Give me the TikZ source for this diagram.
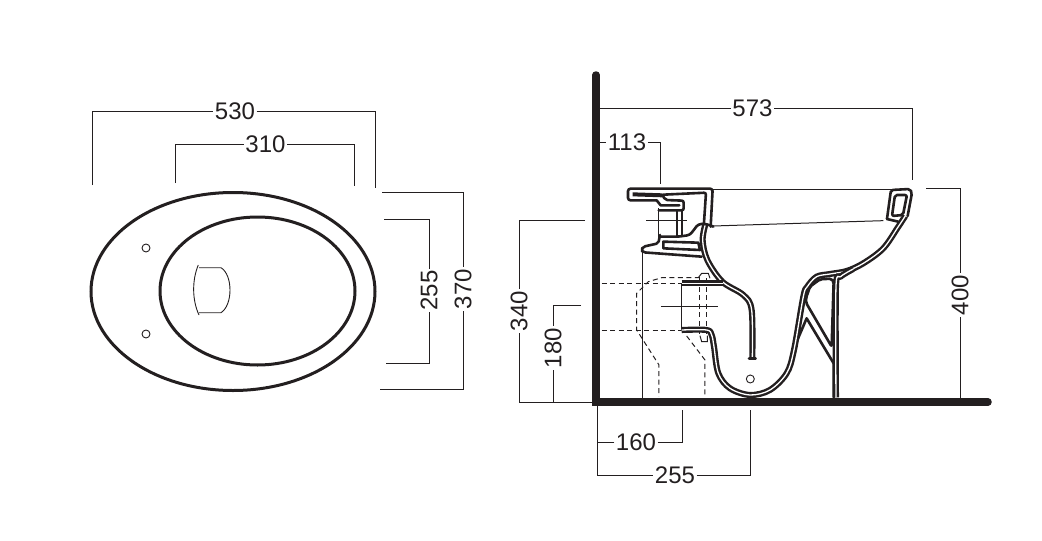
\documentclass[tikz,border=0pt]{standalone}
\usepackage{fontspec}
\setmainfont{Liberation Sans}
\definecolor{ink}{HTML}{231F20}
\tikzset{
	dimline/.style={draw=ink,line width=1pt},
	dimtext/.style={text=ink,inner sep=1.5pt,font=\fontsize{24}{24}\selectfont},
	thinline/.style={draw=ink,line width=1pt},
	dashline/.style={draw=ink,line width=1pt,dash pattern=on 5pt off 3.5pt},
	heavy/.style={draw=ink,line width=2.6pt,line join=round,line cap=round},
	ceramic/.style={draw=ink,line width=2.4pt,double=white,double distance=1.3pt,line join=round},
	solid wall/.style={draw=ink,line width=7.5pt,line cap=round},
}
\begin{document}
\begin{tikzpicture}[x=1pt,y=-1pt]
	\useasboundingbox (0,0) rectangle (1042,541);
	% plan view
	\draw[ink,line width=3pt] (233,291.5) ellipse (142 and 99);
	\draw[ink,line width=3pt] (257.5,291) ellipse (97.5 and 74);
	\draw[ink,line width=0.9pt] (146,248) circle (4);
	\draw[ink,line width=0.9pt] (146,334) circle (4);
	\draw[ink,line width=0.9pt] (198.3,265) .. controls (192,280) and (192,300) .. (199,315);
	\draw[ink,line width=0.9pt] (199,267.7) -- (221,267.7) .. controls (233,275) and (233,305) .. (221,312.7) -- (199,312.7);
	% plan dimensions
	\node[dimtext] (d530) at (235,111) {530};
	\node[dimtext] (d310) at (265.5,144) {310};
	\node[dimtext,rotate=90] (d370) at (463,289) {370};
	\node[dimtext,rotate=90] (d255a) at (429,290.5) {255};
	\coordinate (a1) at (92,185);
	\coordinate (a2) at (375,188);
	\coordinate (b1) at (175,183);
	\coordinate (b2) at (354.5,186);
	\coordinate (c1) at (382,192);
	\coordinate (c2) at (380,389);
	\coordinate (e1) at (384,219);
	\coordinate (e2) at (386,363);
	\draw[dimline] (a1) |- (d530);
	\draw[dimline] (d530) -| (a2);
	\draw[dimline] (b1) |- (d310);
	\draw[dimline] (d310) -| (b2);
	\draw[dimline] (c1) -| (d370);
	\draw[dimline] (c2) -| (d370);
	\draw[dimline] (e1) -| (d255a);
	\draw[dimline] (e2) -| (d255a);
	% section dimensions
	\node[dimtext] (d573) at (752.5,108.5) {573};
	\node[dimtext] (d113) at (627,142) {113};
	\node[dimtext,rotate=90] (d400) at (960,295) {400};
	\node[dimtext,rotate=90] (d340) at (519,311) {340};
	\node[dimtext,rotate=90] (d180) at (553,348) {180};
	\node[dimtext] (d160) at (636,442) {160};
	\node[dimtext] (d255b) at (675,475) {255};
	\coordinate (f1) at (597,108.5);
	\coordinate (f2) at (912,180);
	\coordinate (g1) at (597,142);
	\coordinate (g2) at (660,184);
	\coordinate (h1) at (926,188);
	\coordinate (h2) at (960,402);
	\coordinate (i1) at (585,220);
	\coordinate (i2) at (596,402);
	\coordinate (j1) at (581,305);
	\coordinate (j2) at (553,402);
	\coordinate (k1) at (597,405);
	\coordinate (k2) at (682,410);
	\coordinate (k3) at (597,475);
	\coordinate (k4) at (750,410);
	\draw[dimline] (f1) -- (d573);
	\draw[dimline] (d573) -| (f2);
	\draw[dimline] (g1) -- (d113);
	\draw[dimline] (d113) -| (g2);
	\draw[dimline] (h1) -| (d400);
	\draw[dimline] (h2) -- (d400);
	\draw[dimline] (i1) -| (d340);
	\draw[dimline] (i2) -| (d340);
	\draw[dimline] (j1) -| (d180);
	\draw[dimline] (j2) -- (d180);
	\draw[dimline] (k1) -- (k3);
	\draw[dimline] (d160.west) -- (d160.west -| k1);
	\draw[dimline] (d160) -| (k2);
	\draw[dimline] (k3) -- (d255b);
	\draw[dimline] (d255b) -| (k4);
	% section, bowl
	\begin{scope}[shift={(590,170)},x=0.3333pt,y=-0.3333pt]
		\draw[thinline] (365,57) -- (905,57);
		\draw[thinline] (370,168) -- (880,152);
		\draw[thinline] (156,245) -- (156,685);
		\draw[thinline] (275,340) -- (275,482);
		\draw[thinline] (205,115) -- (205,200);
		\draw[thinline] (168,152) -- (290,152);
		\draw[thinline] (213,410) -- (383,410);
		\draw[ink,line width=0.9pt] (481,627) circle (12);
		% hidden parts
		\draw[dashline] (35,340) -- (275,340);
		\draw[dashline] (35,483) -- (275,483);
		\draw[dashline] (330,323) -- (215,323) -- (175,335) -- (140,370) -- (140,480) -- (207,585) -- (207,680);
		\draw[dashline] (290,498) -- (345,570) -- (345,680);
		\draw[dashline] (330,325) -- (330,495);
		\draw[dashline] (351,325) -- (351,495);
		\draw[thinline] (325,323) -- (335,310) -- (355,310) -- (360,325);
		\draw[thinline] (330,497) -- (335,515) -- (352,515) -- (352,497);
		% glazed walls
		\draw[heavy,rounded corners=2pt] (648,398) -- (725,530) -- (731,335) -- (725,326) -- (690,328) -- (660,350) -- (648,385) -- cycle;
		\draw[heavy] (618,520) -- (650,445) -- (731,580) -- (731,682);
		\draw[ceramic] plot[smooth,tension=0.55] coordinates {(946,138) (925,170) (880,235) (820,280) (770,303) (720,312) (680,320) (652,350) (640,380) (612,540) (590,610) (540,660) (480,675) (420,655) (385,610) (372,530) (365,495) (350,480) (275,480)};
		\draw[ceramic] plot[smooth,tension=0.5] coordinates {(790,297) (752,320) (738,350) (738,682)};
		\draw[ceramic] plot[smooth,tension=0.55] coordinates {(347,160) (338,210) (352,270) (397,335) (460,375) (485,420) (487,565)};
		\draw[heavy] (477,565) -- (497,565);
		\draw[ceramic] (275,340) -- (400,340);
		% back rim
		\draw[heavy,rounded corners=2pt] (891,147) -- (903,60) -- (960,57) -- (966,69) -- (953,138);
		\draw[heavy,rounded corners=2pt] (915,75) -- (951,75) -- (939,135) -- (906,138) -- cycle;
		\draw[heavy] (891,147) -- (925,155);
	\end{scope}
	% section, front flange
	\begin{scope}[shift={(620,180)},x=0.3333pt,y=-0.3333pt]
		\draw[heavy,rounded corners=2.5pt] (110,61) -- (24,61) -- (24,26) -- (278,26) -- (272,140);
		\draw[heavy] (110,61) -- (122,76) -- (178,76);
		\draw[ink,line width=4pt] (38,43) -- (128,46);
		\draw[heavy,rounded corners=2pt] (130,44) -- (258,38) -- (252,128);
		\draw[heavy,rounded corners=2pt] (128,46) -- (136,60) -- (191,62) -- (191,91) -- (116,91);
		\draw[ink,line width=1.6pt] (171,91) -- (171,170);
		\draw[ink,line width=1.6pt] (186,91) -- (186,170);
		\draw[heavy,rounded corners=3pt] (120,170) -- (175,170) -- (210,165) -- (225,145) -- (235,132) -- (260,132) -- (280,140);
		\draw[heavy,rounded corners=2pt] (120,165) -- (115,190) -- (70,200) -- (63,210) -- (70,217) -- (245,230);
		\draw[heavy] (130,185) -- (235,188) -- (240,210) -- (130,205) -- cycle;
	\end{scope}
	% wall and floor
	\draw[solid wall] (596,75) -- (596,402) -- (988,402);
\end{tikzpicture}
\end{document}
